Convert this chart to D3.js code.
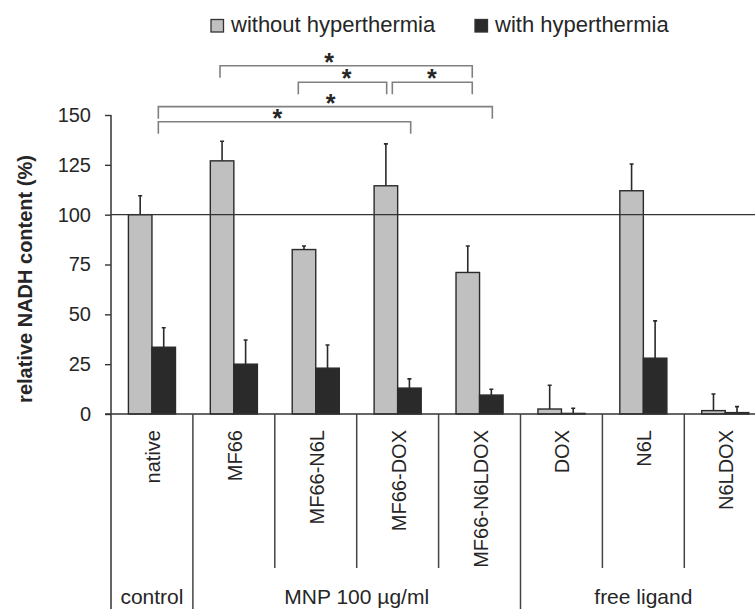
<!DOCTYPE html>
<html lang="en">
<head>
<meta charset="UTF-8">
<title>relative NADH content</title>
<script src="https://d3js.org/d3.v7.min.js"></script>
<style>
  body { margin: 0; background: #fff; }
  svg text { font-family: "Liberation Sans", Arial, sans-serif; fill: #262626; }
</style>
</head>
<body>
<div id="chart"></div>
<script>
// data
const categories = ["native", "MF66", "MF66-N6L", "MF66-DOX", "MF66-N6LDOX", "DOX", "N6L", "N6LDOX"];
const seriesNames = ["without hyperthermia", "with hyperthermia"];
const withoutValues = [100, 127, 82.5, 114.5, 71, 2.5, 112, 1.7];
const withoutErrors = [9.5, 9.8, 1.8, 21, 13.3, 11.9, 13.4, 8.3];
const withValues = [33.5, 25, 23, 13, 9.5, 0.3, 28, 0.7];
const withErrors = [9.8, 12.1, 11.6, 4.6, 2.9, 2.6, 18.7, 3.0];
const yTicks = [0, 25, 50, 75, 100, 125, 150];
const refLine = 100;
const groupNames = ["control", "MNP 100 µg/ml", "free ligand"];
const groupSizes = [1, 4, 3];
// significance brackets: from / to / star position in category units, height in % units
const bracketFrom = [1.331, 2.287, 3.435, 0.578, 0.578];
const bracketTo = [4.411, 3.366, 4.411, 4.656, 3.659];
const bracketStar = [2.662, 2.878, 3.919, 2.683, 2.031];
const bracketLevel = [174.7, 166.4, 166.4, 154.2, 146.6];

const W = 755, H = 609;
const svg = d3.select("#chart").append("svg").attr("width", W).attr("height", H);

const x0 = d3.scaleBand().domain(categories).range([111, 111 + 8 * 81.9]).paddingInner(0).paddingOuter(0);
const x1 = d3.scaleBand().domain(seriesNames).range([0, x0.bandwidth()]).paddingInner(0).paddingOuter(0.74);
const xu = d3.scaleLinear().domain([0, categories.length]).range(x0.range()); // category units
const y = d3.scaleLinear().domain([0, 150]).range([414, 115]);
const fills = { "without hyperthermia": "#c0c0c0", "with hyperthermia": "#2a2a2a" };

const rows = categories.map((c, i) => ({
  cat: c,
  bars: [
    { s: seriesNames[0], v: withoutValues[i], e: withoutErrors[i] },
    { s: seriesNames[1], v: withValues[i], e: withErrors[i] }
  ]
}));

// y axis
const yAxis = d3.axisLeft(y).tickValues(yTicks).tickSize(6).tickPadding(14).tickFormat(d3.format("d"));
const ga = svg.append("g").attr("transform", "translate(111,0)").call(yAxis);
ga.select(".domain").remove();
ga.selectAll(".tick line").attr("stroke", "#333").attr("stroke-width", 1.4);
ga.selectAll(".tick text").attr("font-size", 20).attr("fill", "#262626");

svg.append("text")
  .attr("transform", "translate(32," + 279 + ") rotate(-90)")
  .attr("text-anchor", "middle")
  .attr("font-size", 20).attr("font-weight", "bold")
  .text("relative NADH content (%)");

// bars
const cg = svg.selectAll(".cat").data(rows).enter().append("g")
  .attr("transform", d => `translate(${x0(d.cat)},0)`);

// error bars (upward only)
cg.selectAll(".err").data(d => d.bars).enter().append("path")
  .attr("d", d => {
    const cx = x1(d.s) + x1.bandwidth() / 2;
    return `M${cx},${y(d.v)}V${y(d.v + d.e)}M${cx - 2},${y(d.v + d.e)}H${cx + 2}`;
  })
  .attr("stroke", "#2a2a2a").attr("stroke-width", 1.6).attr("fill", "none");

cg.selectAll("rect").data(d => d.bars).enter().append("rect")
  .attr("x", d => x1(d.s))
  .attr("y", d => y(d.v))
  .attr("width", x1.bandwidth())
  .attr("height", d => y(0) - y(d.v))
  .attr("fill", d => fills[d.s])
  .attr("stroke", "#2a2a2a").attr("stroke-width", 1.4);

// reference line at 100 and baseline
svg.append("line").attr("x1", 111).attr("x2", W).attr("y1", y(refLine)).attr("y2", y(refLine))
  .attr("stroke", "#333").attr("stroke-width", 1.3);
svg.append("line").attr("x1", 105).attr("x2", W).attr("y1", y(0)).attr("y2", y(0))
  .attr("stroke", "#333").attr("stroke-width", 1.5);
// y axis line, continuing down as the first divider
svg.append("line").attr("x1", 111).attr("x2", 111).attr("y1", y(150)).attr("y2", H)
  .attr("stroke", "#333").attr("stroke-width", 1.5);

// category dividers
const groupStarts = [];
let acc = 0;
groupSizes.forEach(n => { groupStarts.push(acc); acc += n; });
d3.range(1, categories.length + 1).forEach(i => {
  const full = groupStarts.includes(i) || i === categories.length;
  svg.append("line").attr("x1", xu(i)).attr("x2", xu(i))
    .attr("y1", y(0)).attr("y2", full ? H : 568)
    .attr("stroke", "#444").attr("stroke-width", 1.5);
});

// category labels
svg.selectAll(".clab").data(categories).enter().append("text")
  .attr("transform", d => `translate(${x0(d) + x0.bandwidth() / 2},430) rotate(-90)`)
  .attr("text-anchor", "end").attr("dy", 8)
  .attr("font-size", 20)
  .text(d => d);

// group labels
svg.selectAll(".glab").data(groupNames).enter().append("text")
  .attr("x", (d, i) => (xu(groupStarts[i]) + xu(groupStarts[i] + groupSizes[i])) / 2)
  .attr("y", 604)
  .attr("text-anchor", "middle")
  .attr("font-size", 21)
  .text(d => d);

// significance brackets
const leg = 12;
bracketFrom.forEach((f, i) => {
  const ly = y(bracketLevel[i]);
  svg.append("path")
    .attr("d", `M${xu(f)},${ly + leg}V${ly}H${xu(bracketTo[i])}V${ly + leg}`)
    .attr("fill", "none").attr("stroke", "#808080").attr("stroke-width", 1.6);
  svg.append("text")
    .attr("x", xu(bracketStar[i])).attr("y", ly + 5)
    .attr("text-anchor", "middle").attr("font-size", 25).attr("font-weight", "bold")
    .attr("fill", "#333")
    .text("*");
});

// legend
const legX = [211, 475];
seriesNames.forEach((s, i) => {
  svg.append("rect").attr("x", legX[i]).attr("y", 19.5).attr("width", 12.5).attr("height", 12.5)
    .attr("fill", fills[s]).attr("stroke", "#333").attr("stroke-width", 1.3);
  svg.append("text").attr("x", legX[i] + 20).attr("y", 32)
    .attr("font-size", 22).text(s);
});
</script>
</body>
</html>
